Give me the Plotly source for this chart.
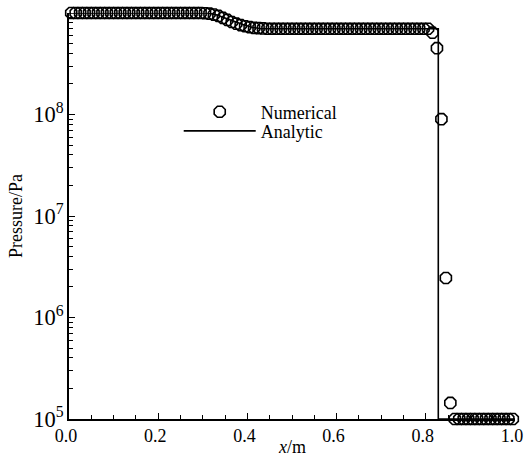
import plotly.graph_objects as go

# Numerical solution (cell centres, dx = 0.01)
num_x = [0.005, 0.015, 0.025, 0.035, 0.045, 0.055, 0.065, 0.075, 0.085, 0.095,
         0.105, 0.115, 0.125, 0.135, 0.145, 0.155, 0.165, 0.175, 0.185, 0.195,
         0.205, 0.215, 0.225, 0.235, 0.245, 0.255, 0.265, 0.275, 0.285, 0.295,
         0.305, 0.315, 0.325, 0.335, 0.345, 0.355, 0.365, 0.375, 0.385, 0.395,
         0.405, 0.415, 0.425, 0.435, 0.445, 0.455, 0.465, 0.475, 0.485, 0.495,
         0.505, 0.515, 0.525, 0.535, 0.545, 0.555, 0.565, 0.575, 0.585, 0.595,
         0.605, 0.615, 0.625, 0.635, 0.645, 0.655, 0.665, 0.675, 0.685, 0.695,
         0.705, 0.715, 0.725, 0.735, 0.745, 0.755, 0.765, 0.775, 0.785, 0.795,
         0.805, 0.815, 0.825, 0.835, 0.845, 0.855, 0.865, 0.875, 0.885, 0.895,
         0.905, 0.915, 0.925, 0.935, 0.945, 0.955, 0.965, 0.975, 0.985, 0.995]
num_p = [1.0e9, 1.0e9, 1.0e9, 1.0e9, 1.0e9, 1.0e9, 1.0e9, 1.0e9, 1.0e9, 1.0e9,
         1.0e9, 1.0e9, 1.0e9, 1.0e9, 1.0e9, 1.0e9, 1.0e9, 1.0e9, 1.0e9, 1.0e9,
         1.0e9, 1.0e9, 1.0e9, 1.0e9, 1.0e9, 1.0e9, 1.0e9, 1.0e9, 1.0e9, 1.0e9,
         0.995e9, 0.985e9, 0.965e9, 0.935e9, 0.895e9, 0.855e9, 0.815e9, 0.785e9, 0.76e9, 0.74e9,
         0.725e9, 0.715e9, 0.71e9, 0.705e9, 0.70e9, 0.70e9, 0.70e9, 0.70e9, 0.70e9, 0.70e9,
         0.70e9, 0.70e9, 0.70e9, 0.70e9, 0.70e9, 0.70e9, 0.70e9, 0.70e9, 0.70e9, 0.70e9,
         0.70e9, 0.70e9, 0.70e9, 0.70e9, 0.70e9, 0.70e9, 0.70e9, 0.70e9, 0.70e9, 0.70e9,
         0.70e9, 0.70e9, 0.70e9, 0.70e9, 0.70e9, 0.70e9, 0.70e9, 0.70e9, 0.70e9, 0.70e9,
         0.70e9, 0.64e9, 4.5e8, 9.0e7, 2.45e6, 1.44e5, 1.0e5, 1.0e5, 1.0e5, 1.0e5,
         1.0e5, 1.0e5, 1.0e5, 1.0e5, 1.0e5, 1.0e5, 1.0e5, 1.0e5, 1.0e5, 1.0e5]

# Analytic solution
ana_x = [0.0, 0.31, 0.33, 0.35, 0.37, 0.39, 0.41, 0.43, 0.828, 0.828, 1.0]
ana_p = [1.0e9, 1.0e9, 0.96e9, 0.90e9, 0.83e9, 0.77e9, 0.725e9, 0.70e9, 0.70e9, 1.0e5, 1.0e5]

FONT = "Liberation Serif"

fig = go.Figure()
fig.add_trace(go.Scatter(
    x=num_x, y=num_p, mode="markers", name="Numerical", legend="legend",
    marker=dict(symbol="octagon-open", size=12, color="black", line=dict(width=1.6, color="black")),
    cliponaxis=False,
))
fig.add_trace(go.Scatter(
    x=ana_x, y=ana_p, mode="lines", name="Analytic", legend="legend2",
    line=dict(color="black", width=1.6),
    cliponaxis=False,
))

leg_common = dict(xanchor="left", yanchor="middle", bgcolor="rgba(0,0,0,0)",
                  font=dict(family=FONT, size=18), itemwidth=72)

fig.update_layout(
    width=526, height=461,
    margin=dict(l=69, r=11, t=13, b=42, autoexpand=False),
    paper_bgcolor="white", plot_bgcolor="white",
    font=dict(family=FONT, size=18, color="black"),
    showlegend=True,
    legend=dict(x=0.246, y=0.756, **leg_common),
    legend2=dict(x=0.246, y=0.709, **leg_common),
    xaxis=dict(
        range=[0, 1.0], dtick=0.2, tickformat=".1f", automargin=False,
        showline=True, linecolor="black", linewidth=1.5, mirror=False,
        ticks="inside", ticklen=6, tickcolor="black", tickwidth=1,
        minor=dict(ticks="inside", ticklen=4, dtick=0.05, tickcolor="black", showgrid=False),
        showgrid=False, zeroline=False,
        ticklabelshift=-3,
        tickfont=dict(family=FONT, size=18),
    ),
    yaxis=dict(
        type="log", range=[5, 9], dtick=1, exponentformat="power", automargin=False,
        showline=True, linecolor="black", linewidth=1.5, mirror=False,
        ticks="inside", ticklen=6, tickcolor="black", tickwidth=1,
        minor=dict(ticks="inside", ticklen=4, dtick="D1", tickcolor="black", showgrid=False),
        showgrid=False, zeroline=False,
        title=dict(text="Pressure/Pa", standoff=6, font=dict(family=FONT, size=18)),
        tickfont=dict(family=FONT, size=18),
    ),
    annotations=[dict(text="<i>x</i>/m", xref="paper", yref="paper", x=0.5, y=-0.069,
                      xanchor="center", yanchor="middle", showarrow=False,
                      font=dict(family=FONT, size=18))],
)

fig.write_html("out.html", config={"displayModeBar": False},
               post_script="document.body.style.margin='0px';")
